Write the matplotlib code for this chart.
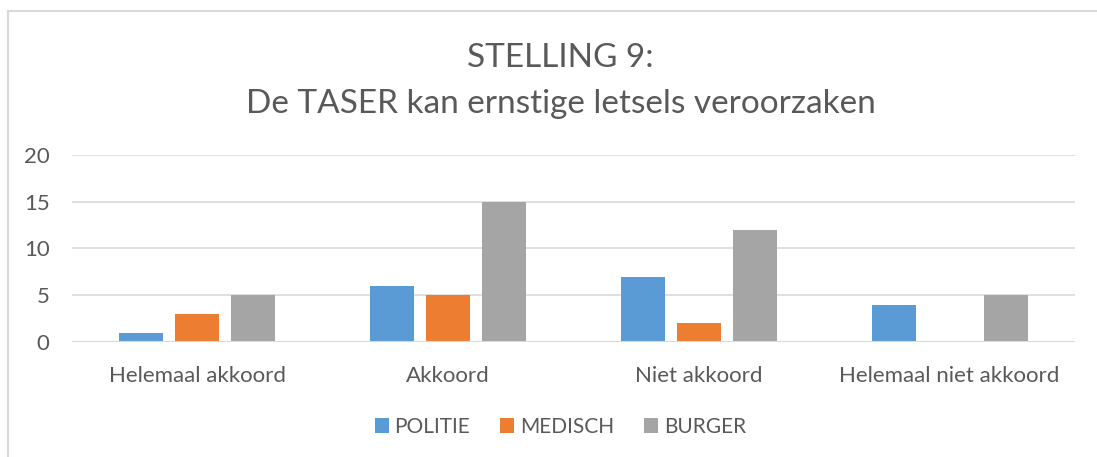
import matplotlib
matplotlib.use("Agg")
import matplotlib.pyplot as plt
import numpy as np
from matplotlib.lines import Line2D

plt.rcParams['font.family'] = ['Lato', 'DejaVu Sans']

# data
categories = ['Helemaal akkoord', 'Akkoord', 'Niet akkoord', 'Helemaal niet akkoord']
politie = [1, 6, 7, 4]
medisch = [3, 5, 2, 0]
burger = [5, 15, 12, 5]
series_names = ['POLITIE', 'MEDISCH', 'BURGER']
colors = ['#5B9BD5', '#ED7D31', '#A5A5A5']
text_color = '#595959'

fig = plt.figure(figsize=(10.97, 4.57), dpi=100)
ax = fig.add_axes([0.0656, 0.2516, 0.9144, 0.4094])

x = np.arange(len(categories))
width = 0.175
offset = 0.223

for i, vals in enumerate([politie, medisch, burger]):
    ax.bar(x + (i - 1) * offset, vals, width, color=colors[i],
           label=series_names[i], zorder=3)

ax.set_xlim(-0.5, len(categories) - 0.5)
ax.set_ylim(0, 20)
ax.set_yticks([0, 5, 10, 15, 20])
ax.set_xticks(x)
ax.set_xticklabels(categories)
ax.grid(axis='y', color='#D9D9D9', linewidth=1.2, zorder=0)
ax.axhline(0, color='#D9D9D9', linewidth=1.5, zorder=4)
for s in ax.spines.values():
    s.set_visible(False)
ax.tick_params(axis='both', length=0, labelsize=16, colors=text_color)
ax.tick_params(axis='x', pad=17)
ax.tick_params(axis='y', pad=16)

fig.text(0.511, 0.873, 'STELLING 9:', ha='center', va='center',
         fontsize=24, color=text_color)
fig.text(0.511, 0.773, 'De TASER kan ernstige letsels veroorzaken', ha='center',
         va='center', fontsize=24, color=text_color)

ax.legend(loc='center', bbox_to_anchor=(0.511, 0.066), bbox_transform=fig.transFigure,
          ncol=3, frameon=False, fontsize=15, labelcolor=text_color,
          handlelength=0.67, handleheight=0.67, handletextpad=0.29, columnspacing=1.44)

# chart border (left and top)
fig.add_artist(Line2D([8 / 1097, 8 / 1097], [0, 1 - 11 / 457], color='#D9D9D9',
                      linewidth=1.5, transform=fig.transFigure))
fig.add_artist(Line2D([8 / 1097, 1], [1 - 11 / 457, 1 - 11 / 457], color='#D9D9D9',
                      linewidth=1.5, transform=fig.transFigure))

fig.savefig('out.png', dpi=100)
